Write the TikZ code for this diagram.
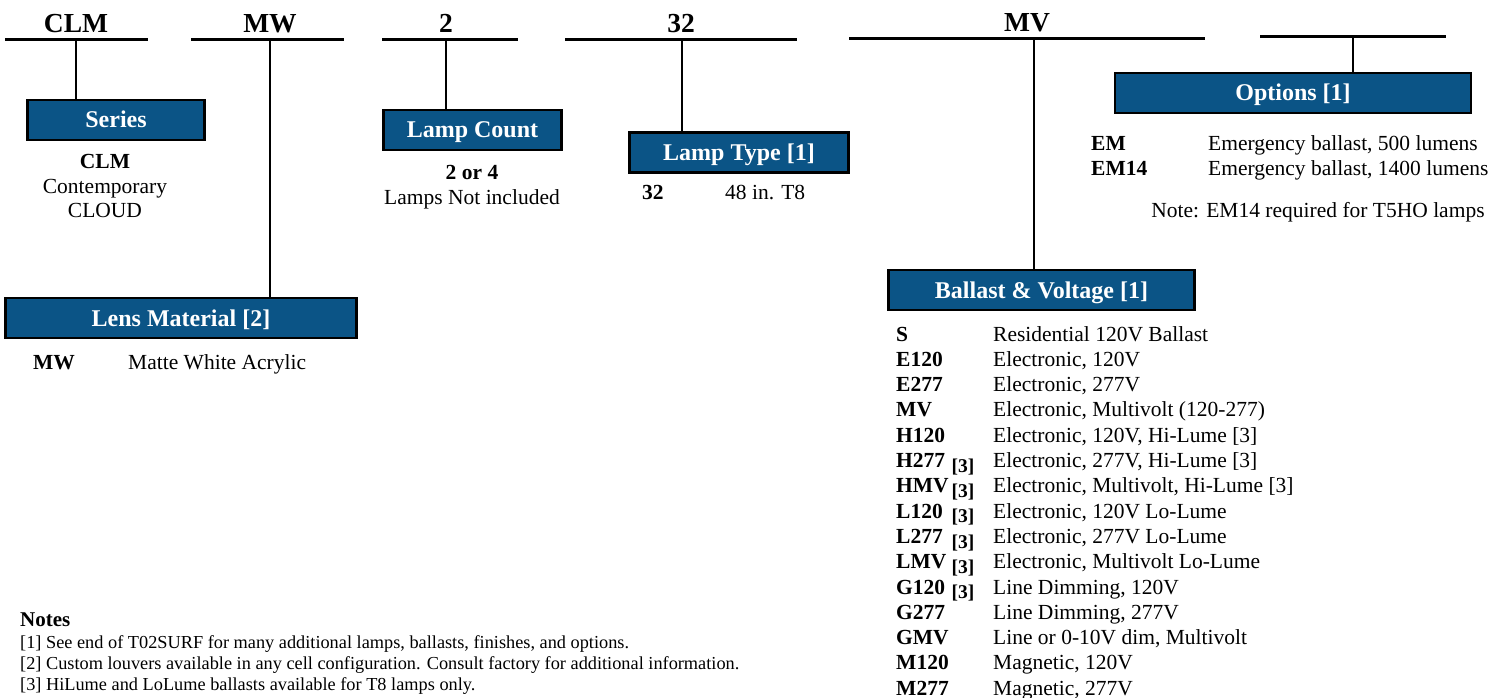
\documentclass[tikz,border=0pt]{standalone}
\usepackage{fontspec}
\setmainfont{Liberation Serif}
\definecolor{boxblue}{HTML}{0B5486}
\tikzset{
  hdr/.style={font=\fontsize{27.5}{30}\selectfont\bfseries, inner sep=0pt, text height=18pt, text depth=0pt},
  bar/.style={line width=3pt},
  conn/.style={line width=2.6pt},
  cat/.style={draw=black, line width=2.6pt, fill=boxblue, text=white, font=\fontsize{24}{27}\selectfont\bfseries, inner sep=0pt, text height=16pt, text depth=0pt},
  bodytxt/.style={font=\fontsize{21.5}{25}\selectfont, inner sep=0pt, text height=14pt, text depth=0pt},
  boldtxt/.style={bodytxt, font=\fontsize{21.5}{25}\selectfont\bfseries},
  code/.style={boldtxt, anchor=west},
  desc/.style={bodytxt, anchor=west},
  reftxt/.style={font=\fontsize{19.5}{22}\selectfont\bfseries, inner sep=0pt, text height=13pt, text depth=0pt},
  notetxt/.style={font=\fontsize{18.3}{21}\selectfont, inner sep=0pt, anchor=west, text height=12pt, text depth=0pt},
  notehead/.style={font=\fontsize{21}{24}\selectfont\bfseries, inner sep=0pt, anchor=west, text height=14pt, text depth=0pt},
}
\begin{document}
\begin{tikzpicture}[x=1pt, y=-1pt]
\useasboundingbox (0,0) rectangle (1501,698);

% header bars
\coordinate (b1a) at (5,40);    \coordinate (b1b) at (148,40);
\coordinate (b2a) at (191,40);  \coordinate (b2b) at (344,40);
\coordinate (b3a) at (382,40);  \coordinate (b3b) at (518,40);
\coordinate (b4a) at (565,40);  \coordinate (b4b) at (797,40);
\coordinate (b5a) at (849,39);  \coordinate (b5b) at (1205,39);
\coordinate (b6a) at (1260,37); \coordinate (b6b) at (1446,37);
\draw[bar] (b1a) -- (b1b);
\draw[bar] (b2a) -- (b2b);
\draw[bar] (b3a) -- (b3b);
\draw[bar] (b4a) -- (b4b);
\draw[bar] (b5a) -- (b5b);
\draw[bar] (b6a) -- (b6b);

% header labels
\node[hdr] (hclm) at (76,24) {CLM};
\node[hdr] (hmw) at (270,24) {MW};
\node[hdr] (h2) at (446,24) {2};
\node[hdr] (h32) at (681,24) {32};
\node[hdr] (hmv) at (1027,23) {MV};

% category boxes
\node[cat, minimum width=177pt, minimum height=40pt] (series) at (116,120) {Series};
\node[cat, minimum width=351pt, minimum height=40pt] (lens) at (181,318) {Lens Material [2]};
\node[cat, minimum width=178pt, minimum height=40pt] (count) at (472.5,130) {Lamp Count};
\node[cat, minimum width=219pt, minimum height=40pt] (ltype) at (739,152.5) {Lamp Type [1]};
\node[cat, minimum width=306pt, minimum height=40pt] (ballast) at (1041.5,290) {Ballast \& Voltage [1]};
\node[cat, minimum width=356pt, minimum height=40pt] (options) at (1293,93) {Options [1]};

% connectors
\coordinate (c1) at (76,40);
\coordinate (c2) at (270,40);
\coordinate (c3) at (446,40);
\coordinate (c4) at (682,40);
\coordinate (c5) at (1034,39);
\coordinate (c6) at (1353,37);
\draw[conn] (c1) -- (c1 |- series.north);
\draw[conn] (c2) -- (c2 |- lens.north);
\draw[conn] (c3) -- (c3 |- count.north);
\draw[conn] (c4) -- (c4 |- ltype.north);
\draw[conn] (c5) -- (c5 |- ballast.north);
\draw[conn] (c6) -- (c6 |- options.north);

% series
\node[boldtxt] (sclm) at (105,161) {CLM};
\node[bodytxt] (scon) at (105,186) {Contemporary};
\node[bodytxt] (sclo) at (105,210) {CLOUD};

% lens
\node[code] (lmw) at (33,362) {MW};
\node[desc] (lmwd) at (128,362) {Matte White Acrylic};

% lamp count
\node[boldtxt] (lc1) at (472,172) {2 or 4};
\node[bodytxt] (lc2) at (472,197) {Lamps Not included};

% lamp type
\node[code] (lt32) at (642,192) {32};
\node[desc] (lt32d) at (725,192) {48 in. T8};

% options
\node[code] (oem) at (1091,143) {EM};
\node[desc] (oemd) at (1208,143) {Emergency ballast, 500 lumens};
\node[code] (oem14) at (1091,168) {EM14};
\node[desc] (oem14d) at (1208,168) {Emergency ballast, 1400 lumens};
\node[bodytxt] (onote) at (1318,210) {Note: EM14 required for T5HO lamps};

% ballast list
\foreach \c/\d [count=\i from 0] in {
  S/Residential 120V Ballast,
  E120/{Electronic, 120V},
  E277/{Electronic, 277V},
  MV/{Electronic, Multivolt (120-277)},
  H120/{Electronic, 120V, Hi-Lume [3]},
  H277/{Electronic, 277V, Hi-Lume [3]},
  HMV/{Electronic, Multivolt, Hi-Lume [3]},
  L120/{Electronic, 120V Lo-Lume},
  L277/{Electronic, 277V Lo-Lume},
  LMV/{Electronic, Multivolt Lo-Lume},
  G120/{Line Dimming, 120V},
  G277/{Line Dimming, 277V},
  GMV/{Line or 0-10V dim, Multivolt},
  M120/{Magnetic, 120V},
  M277/{Magnetic, 277V}} {
  \node[code] (bc\i) at (896,{334+25.3*\i}) {\c};
  \node[desc] (bd\i) at (993,{334+25.3*\i}) {\d};
}
\foreach \k in {0,...,5} {
  \node[reftxt] (bn\k) at (963,{466+25.2*\k}) {[3]};
}

% notes
\node[notehead] (nh) at (20,619) {Notes};
\node[notetxt] (n1) at (20,642) {[1] See end of T02SURF for many additional lamps, ballasts, finishes, and options.};
\node[notetxt] (n2) at (20,663) {[2] Custom louvers available in any cell configuration. Consult factory for additional information.};
\node[notetxt] (n3) at (20,684) {[3] HiLume and LoLume ballasts available for T8 lamps only.};
\end{tikzpicture}
\end{document}
